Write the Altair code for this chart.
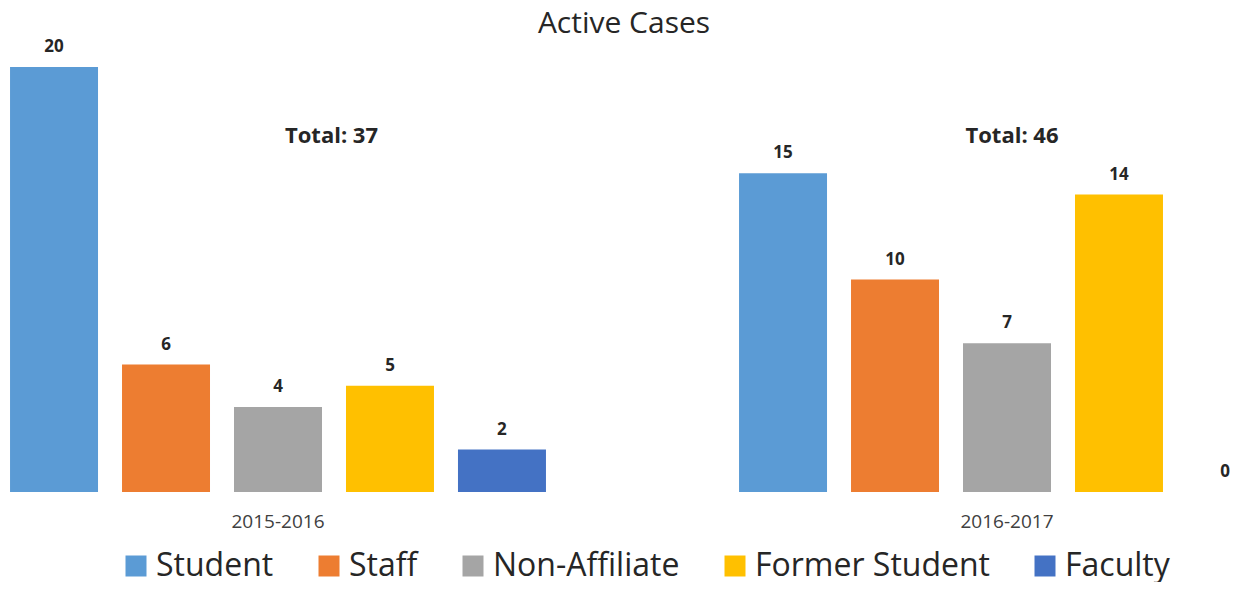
import altair as alt
import pandas as pd

groups = ["2015-2016", "2016-2017"]
categories = ["Student", "Staff", "Non-Affiliate", "Former Student", "Faculty"]
values_2015_2016 = [20, 6, 4, 5, 2]
values_2016_2017 = [15, 10, 7, 14, 0]
colors = ["#5B9BD5", "#ED7D31", "#A5A5A5", "#FFC000", "#4472C4"]

rows = []
for g, vals in zip(groups, [values_2015_2016, values_2016_2017]):
    for c, v in zip(categories, vals):
        rows.append({"period": g, "category": c, "value": v})
df = pd.DataFrame(rows)

totals = [sum(values_2015_2016), sum(values_2016_2017)]

FONT = "Open Sans"
TXT = "#262626"

x = alt.X(
    "period:N", sort=groups,
    scale=alt.Scale(range=[-94.5, 1363.5], paddingInner=0, paddingOuter=0),
    axis=alt.Axis(title=None, domain=False, ticks=False, grid=False, labelAngle=0,
                  labelFont=FONT, labelFontSize=19, labelColor="#404040", labelPadding=20),
)
xoff = alt.XOffset("category:N", sort=categories,
                   scale=alt.Scale(paddingInner=0.2143, paddingOuter=0.862))
y = alt.Y("value:Q", scale=alt.Scale(domain=[0, 22.78], nice=False, zero=True), axis=None)
color = alt.Color(
    "category:N", sort=categories,
    scale=alt.Scale(domain=categories, range=colors),
    legend=alt.Legend(title=None, orient="none", legendX=112, legendY=542,
                      direction="horizontal", symbolType="square", symbolSize=441,
                      symbolStrokeWidth=0, symbolOpacity=1, labelFont=FONT,
                      labelFontSize=32, labelColor=TXT, labelOffset=4,
                      columnPadding=39, labelLimit=0),
)

base = alt.Chart(df)
bars = base.mark_bar(opacity=1).encode(x=x, xOffset=xoff, y=y, color=color)
labels = base.transform_filter("datum.value > 0").mark_text(
    dy=-15, baseline="alphabetic", fontWeight="bold", fontSize=17, font=FONT, color=TXT
).encode(x=x, xOffset=xoff, y=y, text="value:Q")
# zero-valued bar sits at the right edge: keep its label inside the canvas
zero_labels = base.transform_filter("datum.value == 0").mark_text(
    dy=-15, dx=-1, align="right", baseline="alphabetic", fontWeight="bold", fontSize=17,
    font=FONT, color=TXT
).encode(x=x, xOffset=xoff, y=y, text="value:Q")

title = alt.Chart(pd.DataFrame({"t": ["Active Cases"]})).mark_text(
    font=FONT, fontSize=30, color=TXT, baseline="alphabetic"
).encode(x=alt.value(616), y=alt.value(25), text="t:N")

tot1 = alt.Chart(pd.DataFrame({"t": [f"Total: {totals[0]}"]})).mark_text(
    font=FONT, fontSize=22, fontWeight="bold", color=TXT, baseline="middle"
).encode(x=alt.value(323.5), y=alt.value(127.5), text="t:N")
tot2 = alt.Chart(pd.DataFrame({"t": [f"Total: {totals[1]}"]})).mark_text(
    font=FONT, fontSize=22, fontWeight="bold", color=TXT, baseline="middle"
).encode(x=alt.value(1004), y=alt.value(127.5), text="t:N")

chart = alt.layer(bars, labels, zero_labels, title, tot1, tot2).properties(
    width=1222, height=484,
    autosize=alt.AutoSizeParams(type="none"),
    padding={"left": 0, "top": 0, "right": 0, "bottom": 90},
    background="white",
).configure_view(stroke=None)

chart.save("out.html", embed_options={"renderer": "svg", "actions": False})
